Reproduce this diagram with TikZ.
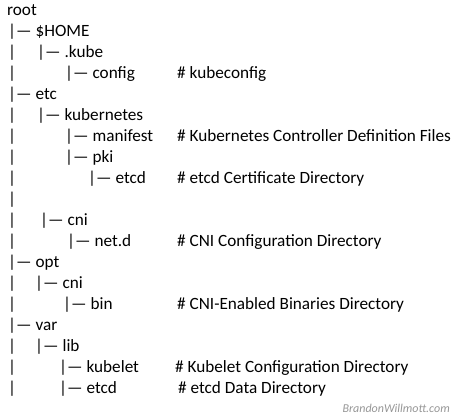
\documentclass[tikz,border=0pt]{standalone}
\usepackage{fontspec}
\setmainfont{Carlito}
\usepackage{xcolor}
\definecolor{grismarca}{RGB}{150,150,150}
\usepackage{tikz}
\usetikzlibrary{positioning}
\begin{document}
\begin{tikzpicture}[x=1pt, y=-1pt,
    fila/.style={anchor=base west, inner sep=0pt, font=\fontsize{17.2}{20}\selectfont},
    marca/.style={anchor=base east, inner sep=0pt, text=grismarca, font=\fontsize{12}{14}\selectfont\itshape}]
      \useasboundingbox (0,0) rectangle (462,418);

      % Raíz
      \node[fila] (root) at (7,15) {root};

      % Entradas del árbol
      \foreach \x/\f/\t [count=\i] in {8/1/\$HOME, 37/2/.kube, 65/3/config, 8/4/etc,
          37/5/kubernetes, 65/6/manifest, 65/7/pki, 88/8/etcd, 40/10/cni, 67/11/net.d,
          8/12/opt, 35/13/cni, 63/14/bin, 8/15/var, 35/16/lib, 59/17/kubelet, 59/18/etcd}
        \node[fila] (e\i) at (\x,15+21*\f) {|— \t};

      % Barras verticales
      \foreach \f in {2,3,5,6,7,8,9,10,11,13,14,16,17,18}
        \node[fila] (b\f) at (8,15+21*\f) {|};

      % Comentarios
      \foreach \x/\f/\t [count=\i] in {177/3/kubeconfig, 177/6/Kubernetes Controller Definition Files,
          177/8/etcd Certificate Directory, 177/11/CNI Configuration Directory,
          177/14/CNI-Enabled Binaries Directory, 175/17/Kubelet Configuration Directory,
          178/18/etcd Data Directory}
        \node[fila] (c\i) at (\x,15+21*\f) {\# \t};

      % Marca de agua
      \node[marca] (web) at (450,412) {BrandonWillmott.com};
    \end{tikzpicture}
\end{document}
